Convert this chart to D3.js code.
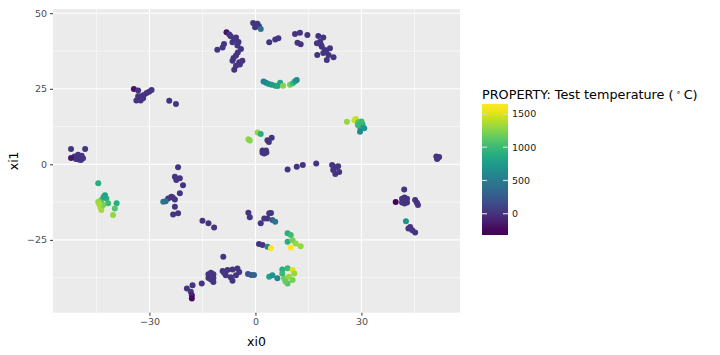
<!DOCTYPE html>
<html><head><meta charset="utf-8">
<script src="https://cdn.jsdelivr.net/npm/d3@7"></script>
<style>body{margin:0;background:#fff}svg{display:block}text{font-family:"DejaVu Sans",sans-serif}</style>
</head><body><svg id="c" width="720" height="355"></svg>
<script>
const xi0 = [
-52.2,-48.2,-51.2,-50.2,-49.2,-48.8,-50.0,-50.8,-49.4,-52.2,
-34.4,-33.2,-33.7,-32.9,-32.3,-31.6,-30.8,-30.1,-29.4,-32.5,-31.8,-33.2,-24.4,-22.5,
-8.2,-7.4,-5.5,-6.5,-5.1,-4.1,-8.9,-9.3,-10.8,-5.5,-6.5,-3.7,-5.5,-6.0,-4.6,-6.0,-4.8,-7.0,-5.0,-6.2,-4.4,
-0.65,0.57,-0.1,1.0,1.5,
3.9,5.6,6.5,
11.2,12.6,14.7,11.9,12.8,
17.8,19.2,18.3,17.4,18.8,19.7,21.1,19.2,20.7,17.5,20.2,22.1,18.6,20.0,
2.3,3.0,3.8,4.6,5.6,6.3,7.0,7.8,9.8,10.6,11.2,11.7,
-2.0,-1.6,0.6,1.5,3.4,4.6,3.8,2.0,3.0,2.5,2.0,3.1,
9.1,11.7,13.4,17.2,21.7,23.4,22.0,23.7,22.6,22.8,
51.2,52.0,51.6,51.4,
25.9,28.4,28.0,29.1,30.3,29.6,30.8,29.6,29.0,30.0,
-21.9,-22.8,-21.4,-22.4,-20.5,-23.8,-24.7,-22.8,-21.4,-26.1,-25.4,-22.8,-23.3,-21.9,-23.4,
-44.5,-42.6,-42.2,-43.6,-44.5,-44.0,-43.6,-41.7,-43.1,-39.3,-39.8,-40.3,-43.0,-44.2,
-15.0,-13.3,-11.7,-9.1,-12.6,-13.3,-11.9,-13.3,-11.9,-12.6,-12.6,-11.9,-15.2,-17.8,-19.4,-18.3,-18.0,-18.0,
-9.3,-7.9,-6.5,-5.1,-4.6,-5.5,-7.0,-6.5,-8.4,-8.9,-2.1,-1.2,-0.4,
3.9,4.8,6.2,7.6,9.1,10.5,11.0,10.5,9.1,8.1,7.6,9.5,8.5,
-2.0,-1.6,1.5,2.5,3.9,3.4,4.8,5.6,4.4,
1.0,2.0,3.4,4.4,
9.1,10.0,9.1,10.5,11.4,12.8,10.0,
42.1,42.2,41.5,42.9,41.5,42.9,42.2,42.2,39.7,45.2,45.7,46.0,42.6,43.3,44.4,45.2,43.8
];
const xi1 = [
5.1,5.1,2.6,3.2,2.8,2.0,1.6,1.8,1.4,2.1,
24.9,24.4,21.1,21.6,22.5,22.9,23.6,24.0,24.6,21.1,21.9,22.5,21.0,20.0,
43.7,43.0,42.0,40.4,39.3,38.2,39.8,38.7,37.9,36.0,34.3,34.3,32.6,31.3,33.8,41.2,40.5,42.4,37.0,35.2,33.0,
46.8,46.5,45.4,45.7,44.8,
40.4,41.3,41.7,
43.1,43.5,42.8,40.2,39.7,
42.5,42.0,40.6,40.1,38.9,37.8,38.4,36.8,36.2,36.2,34.5,35.4,39.5,37.2,
27.4,27.0,26.6,26.3,26.0,25.9,27.0,26.0,26.3,26.8,27.5,27.9,
8.3,7.9,10.5,10.0,8.0,8.8,7.4,4.6,4.6,3.6,3.8,3.9,
-1.7,-0.8,-0.2,0.3,-0.2,-0.6,-1.9,-2.5,-3.2,-1.0,
2.6,2.4,2.0,1.8,
14.1,15.0,14.6,13.9,13.3,12.3,11.9,10.8,13.0,14.2,
-1.0,-4.1,-4.6,-5.2,-6.9,-10.7,-11.3,-11.6,-9.6,-12.4,-12.2,-14.0,-16.6,-16.2,-11.0,
-6.3,-10.2,-11.3,-11.8,-12.4,-14.0,-15.1,-12.9,-13.5,-12.9,-14.6,-16.8,-10.8,-13.2,
-18.7,-19.5,-20.9,-30.6,-37.0,-36.4,-36.4,-37.6,-37.6,-35.9,-38.1,-38.9,-39.4,-40.0,-41.1,-42.2,-43.3,-44.4,
-35.3,-35.0,-34.8,-34.5,-35.6,-36.7,-37.4,-38.5,-36.7,-35.9,-36.3,-36.6,-36.6,
-37.2,-36.7,-37.7,-34.8,-34.4,-35.0,-36.1,-38.3,-39.4,-37.7,-36.1,-37.2,-38.8,
-16.0,-17.5,-19.5,-17.9,-16.2,-17.9,-18.4,-19.0,-16.1,
-26.4,-26.7,-27.3,-27.8,
-22.8,-23.4,-25.6,-25.1,-26.2,-27.1,-27.5,
-8.3,-12.0,-11.4,-11.4,-12.6,-12.6,-11.0,-13.0,-12.5,-11.8,-12.7,-13.5,-18.8,-21.2,-21.8,-22.6,-20.7
];
const temperature = [
22,22,22,22,22,22,22,22,22,-150,
-196,22,22,22,22,22,22,22,22,22,22,22,22,22,
-196,22,22,22,22,22,22,22,22,22,22,22,22,22,22,22,22,22,22,22,22,
22,22,22,22,400,
22,22,22,
22,22,22,22,22,
22,22,22,22,22,22,22,22,22,22,22,22,22,22,
550,600,680,750,800,850,820,1250,1200,1000,800,650,
1300,1250,1300,900,22,22,22,22,22,22,22,22,
22,22,22,22,22,22,22,22,22,22,
22,22,22,22,
1300,1400,1450,1100,900,800,700,600,1000,1000,
22,22,22,22,22,22,22,22,22,500,400,22,22,22,22,
900,800,900,1100,1300,1400,1350,1000,1200,900,1100,1300,850,1350,
22,22,22,22,22,22,22,22,22,22,22,22,22,22,22,22,-100,-230,
22,22,22,22,22,22,22,22,22,22,200,250,300,
800,700,600,900,1000,1500,1300,1200,1100,1200,1000,1300,1150,
22,22,22,22,22,22,300,450,22,
22,22,600,1600,
900,1000,900,1200,1300,1300,1600,
22,22,22,22,22,22,22,22,-250,22,22,22,700,22,22,22,22
];
const xTicks = [-30, 0, 30];
const yTicks = [-25, 0, 25, 50];
const xMinor = [-45, -15, 15, 45];
const yMinor = [-37.5, -12.5, 12.5, 37.5];
const legendTicks = [0, 500, 1000, 1500];
const tempDomain = [-270, 1600];

const points = xi0.map((x, i) => ({x, y: xi1[i], t: temperature[i]}));
const svg = d3.select("#c");
const L = 53, R = 460, T = 9, B = 312.7;
const x = d3.scaleLinear().domain([-57.3, 57.9]).range([L, R]);
const y = d3.scaleLinear().domain([-49.1, 51.4]).range([B, T]);
const color = d3.scaleSequential(d3.interpolateViridis).domain(tempDomain);

svg.append("rect").attr("x", L).attr("y", T).attr("width", R - L).attr("height", B - T).attr("fill", "#EBEBEB");
const g = svg.append("g");
g.selectAll(".mx").data(xMinor).join("line").attr("x1", d => x(d)).attr("x2", d => x(d)).attr("y1", T).attr("y2", B).attr("stroke", "#fff").attr("stroke-width", 0.55);
g.selectAll(".my").data(yMinor).join("line").attr("y1", d => y(d)).attr("y2", d => y(d)).attr("x1", L).attr("x2", R).attr("stroke", "#fff").attr("stroke-width", 0.55);
g.selectAll(".Mx").data(xTicks).join("line").attr("x1", d => x(d)).attr("x2", d => x(d)).attr("y1", T).attr("y2", B).attr("stroke", "#fff").attr("stroke-width", 1.1);
g.selectAll(".My").data(yTicks).join("line").attr("y1", d => y(d)).attr("y2", d => y(d)).attr("x1", L).attr("x2", R).attr("stroke", "#fff").attr("stroke-width", 1.1);

svg.append("g").selectAll("circle").data(points).join("circle")
  .attr("cx", d => x(d.x)).attr("cy", d => y(d.y)).attr("r", 3)
  .attr("fill", d => color(d.t));

// axes
const fmt = d => String(d).replace("-", "\u2212");
const gx = svg.append("g").attr("transform", `translate(0,${B})`).call(d3.axisBottom(x).tickValues(xTicks).tickSize(3).tickPadding(3).tickFormat(fmt));
const gy = svg.append("g").attr("transform", `translate(${L},0)`).call(d3.axisLeft(y).tickValues(yTicks).tickSize(3).tickPadding(3).tickFormat(fmt));
[gx, gy].forEach(a => {
  a.select(".domain").remove();
  a.selectAll(".tick line").attr("stroke", "#333").attr("stroke-width", 1);
  a.selectAll(".tick text").attr("fill", "#4D4D4D").attr("font-size", 9.5).attr("font-family", "DejaVu Sans");
});

svg.append("text").attr("x", (L + R) / 2).attr("y", 346).attr("text-anchor", "middle").attr("font-size", 12.5).attr("fill", "#000").text("xi0");
svg.append("text").attr("transform", `translate(18,${(T + B) / 2}) rotate(-90)`).attr("text-anchor", "middle").attr("font-size", 12.5).attr("fill", "#000").text("xi1");

// legend
const bx = 482, bw = 26, bTop = 104, bBot = 235;
const ls = d3.scaleLinear().domain(tempDomain).range([bBot - 3.3, bTop + 3.3]);
const defs = svg.append("defs");
const grad = defs.append("linearGradient").attr("id", "lg").attr("x1", 0).attr("y1", 1).attr("x2", 0).attr("y2", 0);
d3.range(0, 1.0001, 0.05).forEach(o => {
  const v = ls.invert(bBot - o * (bBot - bTop));
  const tt = Math.max(0, Math.min(1, (v - tempDomain[0]) / (tempDomain[1] - tempDomain[0])));
  grad.append("stop").attr("offset", o).attr("stop-color", d3.interpolateViridis(tt));
});
svg.append("rect").attr("x", bx).attr("y", bTop).attr("width", bw).attr("height", bBot - bTop).attr("fill", "url(#lg)");
const lt = svg.append("g");
legendTicks.forEach(v => {
  lt.append("line").attr("x1", bx).attr("x2", bx + 5).attr("y1", ls(v)).attr("y2", ls(v)).attr("stroke", "#d9d9d9").attr("stroke-width", 1.2);
  lt.append("line").attr("x1", bx + bw - 5).attr("x2", bx + bw).attr("y1", ls(v)).attr("y2", ls(v)).attr("stroke", "#d9d9d9").attr("stroke-width", 1.2);
  lt.append("text").attr("x", bx + bw + 4).attr("y", ls(v)).attr("dy", "0.35em").attr("font-size", 9.5).attr("fill", "#1a1a1a").text(v);
});
const title = svg.append("text").attr("x", 482).attr("y", 99).attr("font-size", 12.8).attr("fill", "#000");
title.append("tspan").text("PROPERTY: Test temperature (\u2009");
title.append("tspan").attr("font-size", 8).attr("dy", -4.5).text("\u2218");
title.append("tspan").attr("dy", 4.5).text("\u2009C)");
</script></body></html>
